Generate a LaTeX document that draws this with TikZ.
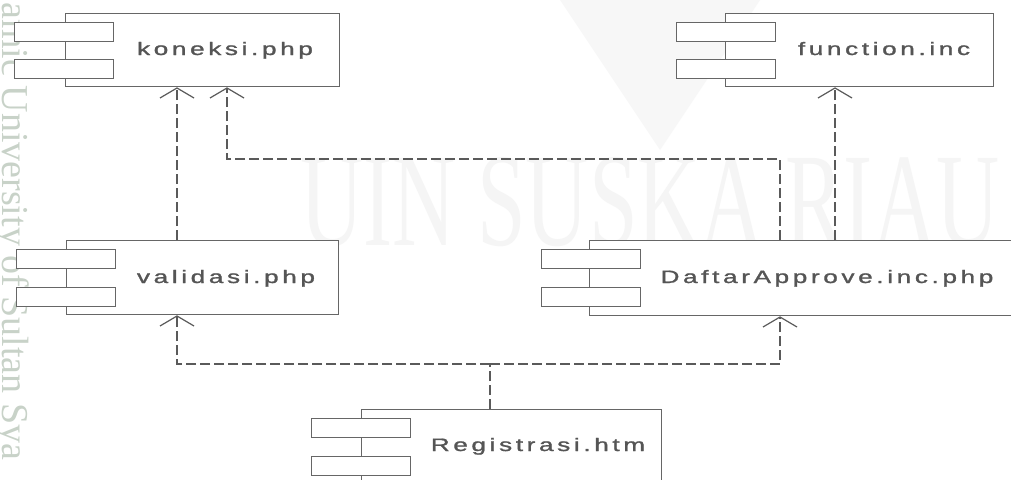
\documentclass[tikz,border=0pt]{standalone}
\usepackage{fontspec}
\newfontfamily\lblfont[LetterSpace=14,FakeBold=1.2]{Liberation Sans}
\newfontfamily\wmfont{Liberation Serif}
\usetikzlibrary{arrows.meta}
\definecolor{linegray}{HTML}{666666}
\definecolor{textgray}{HTML}{555555}
\definecolor{dashgray}{HTML}{5A5A5A}
\definecolor{wmgreen}{HTML}{C8D2C8}
\newcommand{\stretchlbl}[1]{\scalebox{1.45}[1]{#1}}
\tikzset{
  compbox/.style={draw=linegray, line width=1.3pt, fill=white, inner sep=0pt, anchor=north west},
  tabbox/.style={draw=linegray, line width=1.3pt, fill=white, inner sep=0pt, anchor=north west,
                 minimum width=99pt, minimum height=19pt},
  lbl/.style={text=textgray, font=\lblfont\fontsize{18}{18}\selectfont, anchor=base, inner sep=0pt},
  dashline/.style={draw=dashgray, line width=2.4pt, dash pattern=on 10pt off 4pt},
  dep/.style={dashline, -{Straight Barb[length=10pt, width=34pt, line width=1.2pt]}},
  wmark/.style={inner sep=0pt}
}
\begin{document}
\begin{tikzpicture}[x=1pt, y=-1pt]
\useasboundingbox (0,0) rectangle (1011,479);
\clip (0,0) rectangle (1011,479);
\fill[white] (0,0) rectangle (1011,479);
% faint watermark
\fill[black!3] (560,0) -- (760,0) -- (660,150) -- cycle;
\node[wmark, text=black!4, font=\wmfont\fontsize{95}{95}\selectfont, xscale=0.92, yscale=1.4, anchor=base west] (wmbig) at (300,245) {UIN SUSKA RIAU};
\node[wmark, text=wmgreen, font=\wmfont\fontsize{38}{38}\selectfont, rotate=-90, anchor=base west] (wmside) at (2,2) {amic University of Sultan Sya};

% koneksi.php
\node[compbox, minimum width=274pt, minimum height=73pt] (koneksi) at (65,13) {};
\node[tabbox] (koneksiA) at (14,22) {};
\node[tabbox] (koneksiB) at (14,59) {};
\node[lbl] (koneksiL) at (225,55) {\stretchlbl{koneksi.php}};

% function.inc
\node[compbox, minimum width=268pt, minimum height=73pt] (function) at (725,13) {};
\node[tabbox] (functionA) at (676,22) {};
\node[tabbox] (functionB) at (676,59) {};
\node[lbl] (functionL) at (884,55) {\stretchlbl{function.inc}};

% validasi.php
\node[compbox, minimum width=272pt, minimum height=74pt] (validasi) at (66,240) {};
\node[tabbox] (validasiA) at (16,249) {};
\node[tabbox] (validasiB) at (16,287) {};
\node[lbl] (validasiL) at (226,283) {\stretchlbl{validasi.php}};

% DaftarApprove.inc.php
\node[compbox, minimum width=440pt, minimum height=75pt] (daftar) at (589,240) {};
\node[tabbox] (daftarA) at (541,249) {};
\node[tabbox] (daftarB) at (541,287) {};
\node[lbl] (daftarL) at (827,283) {\stretchlbl{DaftarApprove.inc.php}};

% Registrasi.htm
\node[compbox, minimum width=300pt, minimum height=80pt] (registrasi) at (361,409) {};
\node[tabbox] (registrasiA) at (311,418) {};
\node[tabbox] (registrasiB) at (311,456) {};
\node[lbl] (registrasiL) at (538,451) {\stretchlbl{Registrasi.htm}};

% connectors
\coordinate (turnA) at (227,159);
\coordinate (fork) at (490,364);
\draw[dep] ([xshift=111pt]validasi.north west) -- ([xshift=111pt]validasi.north west |- koneksi.south);
\draw[dep] ([xshift=191pt]daftar.north west) |- (turnA) -- (turnA |- koneksi.south);
\draw[dep] ([xshift=246pt]daftar.north west) -- ([xshift=246pt]daftar.north west |- function.south);
\draw[dashline] ([xshift=129pt]registrasi.north west) -- (fork);
\draw[dep] (fork) -| ([xshift=111pt]validasi.south west);
\draw[dep] (fork) -| ([xshift=191pt]daftar.south west);
\end{tikzpicture}
\end{document}
